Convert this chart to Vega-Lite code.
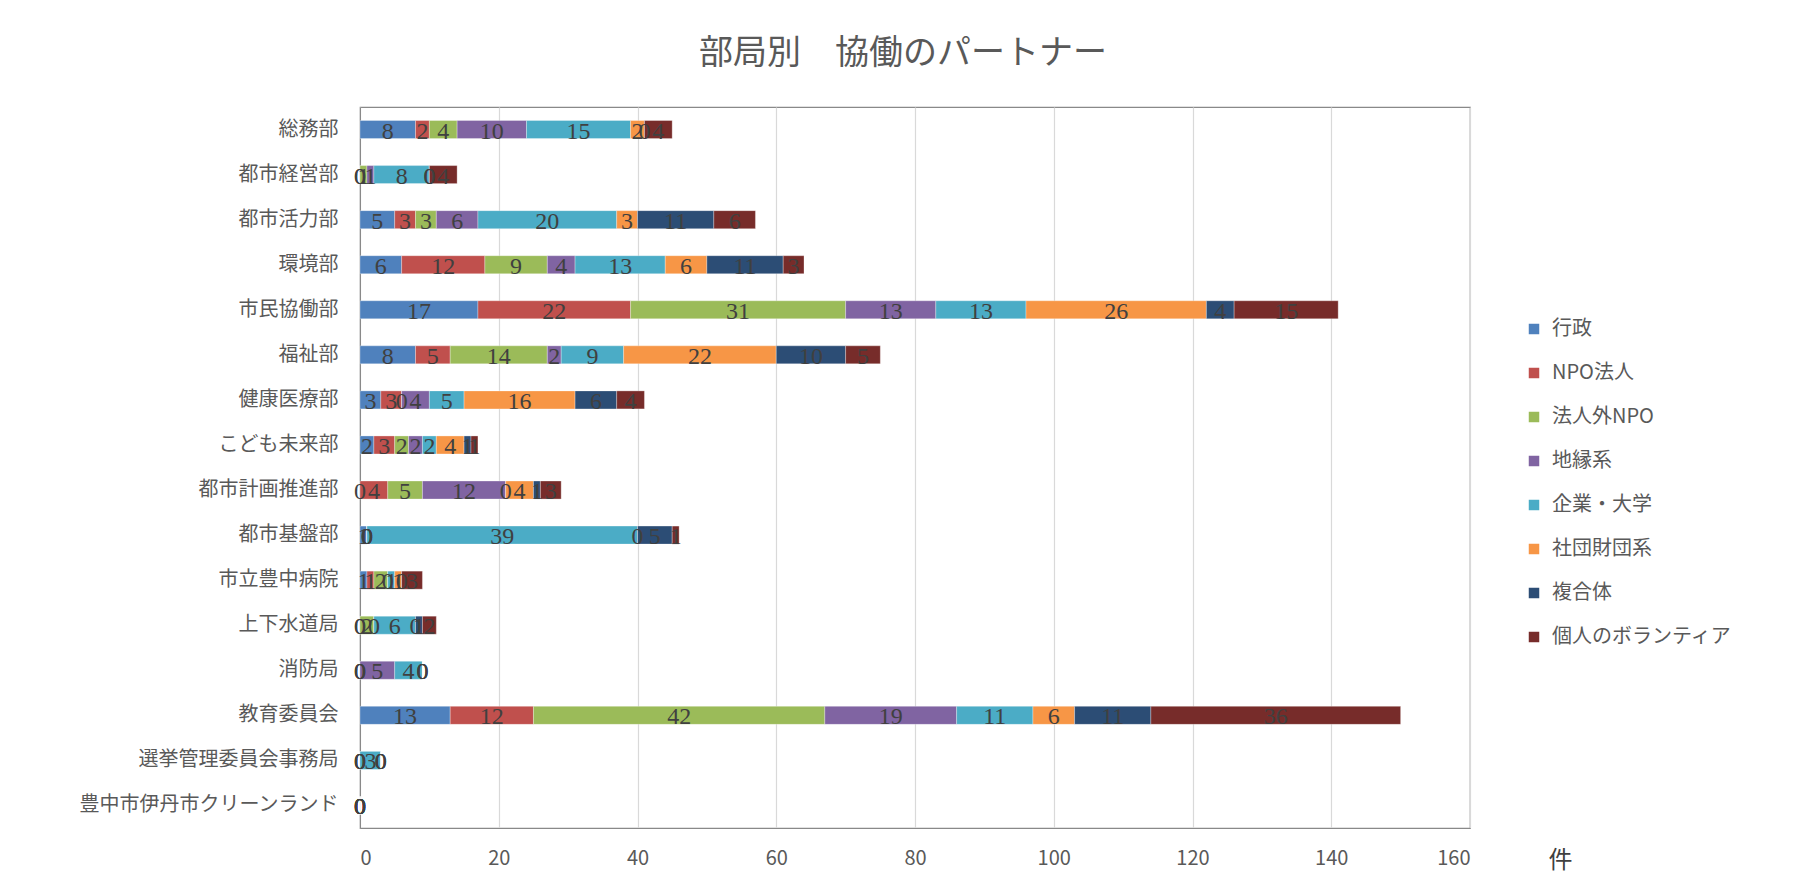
{
  "$schema": "https://vega.github.io/schema/vega-lite/v6.json",
  "width": 1110,
  "height": 721,
  "autosize": {"type": "none"},
  "padding": {"left": 360, "top": 107, "right": 328, "bottom": 58},
  "background": "white",
  "title": {"text": "部局別　協働のパートナー", "fontSize": 34, "font": "Noto Sans CJK JP", "fontWeight": "normal", "color": "#595959", "offset": 36, "anchor": "middle", "dx": -12},
  "config": {
    "view": {"stroke": "#898989", "strokeWidth": 1.2},
    "font": "Noto Sans CJK JP"
  },
  "data": {"values": [
    {"d": "総務部", "c": "行政", "v": 8}, {"d": "総務部", "c": "NPO法人", "v": 2}, {"d": "総務部", "c": "法人外NPO", "v": 4}, {"d": "総務部", "c": "地縁系", "v": 10}, {"d": "総務部", "c": "企業・大学", "v": 15}, {"d": "総務部", "c": "社団財団系", "v": 2}, {"d": "総務部", "c": "複合体", "v": 0}, {"d": "総務部", "c": "個人のボランティア", "v": 4},
    {"d": "都市経営部", "c": "行政", "v": 0}, {"d": "都市経営部", "c": "NPO法人", "v": 0}, {"d": "都市経営部", "c": "法人外NPO", "v": 1}, {"d": "都市経営部", "c": "地縁系", "v": 1}, {"d": "都市経営部", "c": "企業・大学", "v": 8}, {"d": "都市経営部", "c": "社団財団系", "v": 0}, {"d": "都市経営部", "c": "複合体", "v": 0}, {"d": "都市経営部", "c": "個人のボランティア", "v": 4},
    {"d": "都市活力部", "c": "行政", "v": 5}, {"d": "都市活力部", "c": "NPO法人", "v": 3}, {"d": "都市活力部", "c": "法人外NPO", "v": 3}, {"d": "都市活力部", "c": "地縁系", "v": 6}, {"d": "都市活力部", "c": "企業・大学", "v": 20}, {"d": "都市活力部", "c": "社団財団系", "v": 3}, {"d": "都市活力部", "c": "複合体", "v": 11}, {"d": "都市活力部", "c": "個人のボランティア", "v": 6},
    {"d": "環境部", "c": "行政", "v": 6}, {"d": "環境部", "c": "NPO法人", "v": 12}, {"d": "環境部", "c": "法人外NPO", "v": 9}, {"d": "環境部", "c": "地縁系", "v": 4}, {"d": "環境部", "c": "企業・大学", "v": 13}, {"d": "環境部", "c": "社団財団系", "v": 6}, {"d": "環境部", "c": "複合体", "v": 11}, {"d": "環境部", "c": "個人のボランティア", "v": 3},
    {"d": "市民協働部", "c": "行政", "v": 17}, {"d": "市民協働部", "c": "NPO法人", "v": 22}, {"d": "市民協働部", "c": "法人外NPO", "v": 31}, {"d": "市民協働部", "c": "地縁系", "v": 13}, {"d": "市民協働部", "c": "企業・大学", "v": 13}, {"d": "市民協働部", "c": "社団財団系", "v": 26}, {"d": "市民協働部", "c": "複合体", "v": 4}, {"d": "市民協働部", "c": "個人のボランティア", "v": 15},
    {"d": "福祉部", "c": "行政", "v": 8}, {"d": "福祉部", "c": "NPO法人", "v": 5}, {"d": "福祉部", "c": "法人外NPO", "v": 14}, {"d": "福祉部", "c": "地縁系", "v": 2}, {"d": "福祉部", "c": "企業・大学", "v": 9}, {"d": "福祉部", "c": "社団財団系", "v": 22}, {"d": "福祉部", "c": "複合体", "v": 10}, {"d": "福祉部", "c": "個人のボランティア", "v": 5},
    {"d": "健康医療部", "c": "行政", "v": 3}, {"d": "健康医療部", "c": "NPO法人", "v": 3}, {"d": "健康医療部", "c": "法人外NPO", "v": 0}, {"d": "健康医療部", "c": "地縁系", "v": 4}, {"d": "健康医療部", "c": "企業・大学", "v": 5}, {"d": "健康医療部", "c": "社団財団系", "v": 16}, {"d": "健康医療部", "c": "複合体", "v": 6}, {"d": "健康医療部", "c": "個人のボランティア", "v": 4},
    {"d": "こども未来部", "c": "行政", "v": 2}, {"d": "こども未来部", "c": "NPO法人", "v": 3}, {"d": "こども未来部", "c": "法人外NPO", "v": 2}, {"d": "こども未来部", "c": "地縁系", "v": 2}, {"d": "こども未来部", "c": "企業・大学", "v": 2}, {"d": "こども未来部", "c": "社団財団系", "v": 4}, {"d": "こども未来部", "c": "複合体", "v": 1}, {"d": "こども未来部", "c": "個人のボランティア", "v": 1},
    {"d": "都市計画推進部", "c": "行政", "v": 0}, {"d": "都市計画推進部", "c": "NPO法人", "v": 4}, {"d": "都市計画推進部", "c": "法人外NPO", "v": 5}, {"d": "都市計画推進部", "c": "地縁系", "v": 12}, {"d": "都市計画推進部", "c": "企業・大学", "v": 0}, {"d": "都市計画推進部", "c": "社団財団系", "v": 4}, {"d": "都市計画推進部", "c": "複合体", "v": 1}, {"d": "都市計画推進部", "c": "個人のボランティア", "v": 3},
    {"d": "都市基盤部", "c": "行政", "v": 1}, {"d": "都市基盤部", "c": "NPO法人", "v": 0}, {"d": "都市基盤部", "c": "法人外NPO", "v": 0}, {"d": "都市基盤部", "c": "地縁系", "v": 0}, {"d": "都市基盤部", "c": "企業・大学", "v": 39}, {"d": "都市基盤部", "c": "社団財団系", "v": 0}, {"d": "都市基盤部", "c": "複合体", "v": 5}, {"d": "都市基盤部", "c": "個人のボランティア", "v": 1},
    {"d": "市立豊中病院", "c": "行政", "v": 1}, {"d": "市立豊中病院", "c": "NPO法人", "v": 1}, {"d": "市立豊中病院", "c": "法人外NPO", "v": 2}, {"d": "市立豊中病院", "c": "地縁系", "v": 0}, {"d": "市立豊中病院", "c": "企業・大学", "v": 1}, {"d": "市立豊中病院", "c": "社団財団系", "v": 1}, {"d": "市立豊中病院", "c": "複合体", "v": 0}, {"d": "市立豊中病院", "c": "個人のボランティア", "v": 3},
    {"d": "上下水道局", "c": "行政", "v": 0}, {"d": "上下水道局", "c": "NPO法人", "v": 0}, {"d": "上下水道局", "c": "法人外NPO", "v": 2}, {"d": "上下水道局", "c": "地縁系", "v": 0}, {"d": "上下水道局", "c": "企業・大学", "v": 6}, {"d": "上下水道局", "c": "社団財団系", "v": 0}, {"d": "上下水道局", "c": "複合体", "v": 1}, {"d": "上下水道局", "c": "個人のボランティア", "v": 2},
    {"d": "消防局", "c": "行政", "v": 0}, {"d": "消防局", "c": "NPO法人", "v": 0}, {"d": "消防局", "c": "法人外NPO", "v": 0}, {"d": "消防局", "c": "地縁系", "v": 5}, {"d": "消防局", "c": "企業・大学", "v": 4}, {"d": "消防局", "c": "社団財団系", "v": 0}, {"d": "消防局", "c": "複合体", "v": 0}, {"d": "消防局", "c": "個人のボランティア", "v": 0},
    {"d": "教育委員会", "c": "行政", "v": 13}, {"d": "教育委員会", "c": "NPO法人", "v": 12}, {"d": "教育委員会", "c": "法人外NPO", "v": 42}, {"d": "教育委員会", "c": "地縁系", "v": 19}, {"d": "教育委員会", "c": "企業・大学", "v": 11}, {"d": "教育委員会", "c": "社団財団系", "v": 6}, {"d": "教育委員会", "c": "複合体", "v": 11}, {"d": "教育委員会", "c": "個人のボランティア", "v": 36},
    {"d": "選挙管理委員会事務局", "c": "行政", "v": 0}, {"d": "選挙管理委員会事務局", "c": "NPO法人", "v": 0}, {"d": "選挙管理委員会事務局", "c": "法人外NPO", "v": 0}, {"d": "選挙管理委員会事務局", "c": "地縁系", "v": 0}, {"d": "選挙管理委員会事務局", "c": "企業・大学", "v": 3}, {"d": "選挙管理委員会事務局", "c": "社団財団系", "v": 0}, {"d": "選挙管理委員会事務局", "c": "複合体", "v": 0}, {"d": "選挙管理委員会事務局", "c": "個人のボランティア", "v": 0},
    {"d": "豊中市伊丹市クリーンランド", "c": "行政", "v": 0}, {"d": "豊中市伊丹市クリーンランド", "c": "NPO法人", "v": 0}, {"d": "豊中市伊丹市クリーンランド", "c": "法人外NPO", "v": 0}, {"d": "豊中市伊丹市クリーンランド", "c": "地縁系", "v": 0}, {"d": "豊中市伊丹市クリーンランド", "c": "企業・大学", "v": 0}, {"d": "豊中市伊丹市クリーンランド", "c": "社団財団系", "v": 0}, {"d": "豊中市伊丹市クリーンランド", "c": "複合体", "v": 0}, {"d": "豊中市伊丹市クリーンランド", "c": "個人のボランティア", "v": 0}
  ]},
  "transform": [
    {"lookup": "c", "from": {"data": {"values": [
      {"c": "行政", "k": 1}, {"c": "NPO法人", "k": 2}, {"c": "法人外NPO", "k": 3}, {"c": "地縁系", "k": 4},
      {"c": "企業・大学", "k": 5}, {"c": "社団財団系", "k": 6}, {"c": "複合体", "k": 7}, {"c": "個人のボランティア", "k": 8}
    ]}, "key": "c", "fields": ["k"]}},
    {"stack": "v", "groupby": ["d"], "sort": [{"field": "k", "order": "ascending"}], "as": ["v0", "v1"]},
    {"calculate": "(datum.v0 + datum.v1) / 2", "as": "mid"}
  ],
  "encoding": {
    "y": {
      "field": "d", "type": "nominal",
      "sort": ["総務部", "都市経営部", "都市活力部", "環境部", "市民協働部", "福祉部", "健康医療部", "こども未来部", "都市計画推進部", "都市基盤部", "市立豊中病院", "上下水道局", "消防局", "教育委員会", "選挙管理委員会事務局", "豊中市伊丹市クリーンランド"],
      "scale": {"paddingInner": 0.6, "paddingOuter": 0.3},
      "axis": {"title": null, "ticks": false, "domain": true, "domainColor": "#898989", "labelFontSize": 20, "labelColor": "#595959", "labelPadding": 22, "labelFont": "Noto Sans CJK JP", "labelLimit": 400}
    }
  },
  "layer": [
    {
      "mark": {"type": "bar", "stroke": "#ffffff", "strokeWidth": 0.6, "strokeOpacity": 0.5},
      "encoding": {
        "x": {
          "field": "v0", "type": "quantitative",
          "scale": {"domain": [0, 160], "nice": false},
          "axis": {"values": [0, 20, 40, 60, 80, 100, 120, 140, 160], "grid": true, "gridColor": "#D9D9D9", "gridWidth": 1.2, "ticks": false, "domainColor": "#898989", "labelFontSize": 20, "labelColor": "#595959", "labelPadding": 20, "labelFont": "Noto Sans CJK JP",
            "title": "件", "titleFontSize": 24, "titleFontWeight": "normal", "titleColor": "#404040", "titleFont": "Noto Sans CJK JP", "titleX": 1188, "titleY": 32, "titleAlign": "left", "titleBaseline": "middle", "titleAnchor": null}
        },
        "x2": {"field": "v1"},
        "color": {
          "field": "c", "type": "nominal",
          "scale": {
            "domain": ["行政", "NPO法人", "法人外NPO", "地縁系", "企業・大学", "社団財団系", "複合体", "個人のボランティア"],
            "range": ["#4F81BD", "#C0504D", "#9BBB59", "#8064A2", "#4BACC6", "#F79646", "#2C4D75", "#772C2A"]
          },
          "legend": {"title": null, "orient": "none", "legendX": 1164, "legendY": 212, "symbolType": "square", "symbolSize": 110, "symbolStrokeWidth": 0, "labelFontSize": 20, "labelColor": "#595959", "labelFont": "Noto Sans CJK JP", "labelOffset": 8, "rowPadding": 24, "labelLimit": 300}
        }
      }
    },
    {
      "mark": {"type": "text", "font": "Liberation Serif", "fontSize": 24, "fill": "#404040", "baseline": "middle", "align": "center", "dy": 2},
      "encoding": {
        "x": {"field": "mid", "type": "quantitative"},
        "text": {"field": "v", "type": "quantitative"}
      }
    }
  ]
}
